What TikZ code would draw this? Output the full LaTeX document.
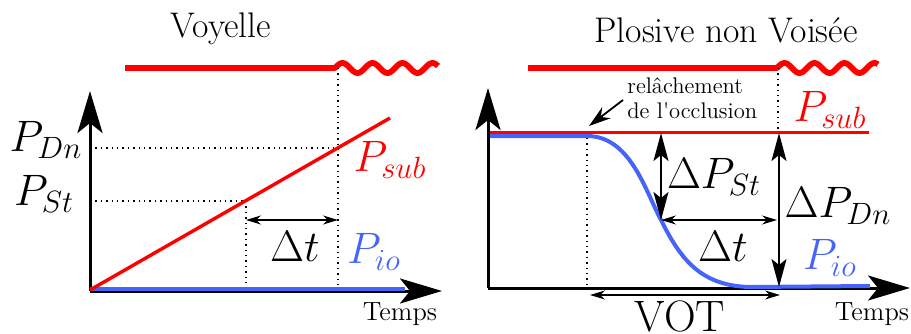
\documentclass[tikz,border=0pt]{standalone}
\usepackage{fix-cm}
\usetikzlibrary{arrows.meta,calc}
\definecolor{pblue}{RGB}{70,100,250}

\begin{document}
\begin{tikzpicture}[x=0.5pt,y=-0.5pt]

\tikzset{
  axis/.style={line width=1.5pt, -{Stealth[length=21pt, width=12.5pt, inset=5pt]}},
  glottis/.style={red, line width=2.9pt, line join=round},
  psub/.style={red, line width=1.7pt},
  pio/.style={pblue, line width=2pt},
  guide/.style={line width=0.7pt, dotted},
  span/.style={line width=0.65pt, arrows={Stealth[length=7.5pt, width=4.5pt]-Stealth[length=7.5pt, width=4.5pt]}},
  bigspan/.style={line width=0.9pt, arrows={Stealth[length=14pt, width=7.5pt, inset=3pt]-Stealth[length=14pt, width=7.5pt, inset=3pt]}},
  title/.style={font=\fontsize{17.8}{21}\selectfont},
  big/.style={font=\fontsize{22}{26}\selectfont, inner sep=0pt},
  temps/.style={font=\fontsize{13.2}{15}\selectfont},
  note/.style={font=\fontsize{11.3}{12.5}\selectfont, align=left, inner sep=0pt}
}

\useasboundingbox (0,0) rectangle (911,333);

% Coordinates Voyelle
\coordinate (o1) at (90,291);
\coordinate (ytip1) at (90,91);
\coordinate (xtip1) at (442,291);
\coordinate (g1) at (125,68);
\coordinate (w1) at (335,68);
\coordinate (t1) at (338,68);
\coordinate (s0) at (90,290);
\coordinate (s1) at (390,118);
\coordinate (a1) at (246,201);
\coordinate (b1) at (338,148);
\coordinate (i0) at (90,288.5);
\coordinate (i1) at (405,288.5);

% Coordinates Plosive
\coordinate (o2) at (488,288);
\coordinate (ytip2) at (488,88);
\coordinate (xtip2) at (910,288);
\coordinate (g2) at (528,68);
\coordinate (w2) at (777,68);
\coordinate (t2) at (778,68);
\coordinate (r0) at (490,132.5);
\coordinate (r1) at (869,132.5);
\coordinate (rel) at (587,132.5);
\coordinate (q0) at (490,136);
\coordinate (q1) at (587,136);
\coordinate (qm) at (661,220);
\coordinate (q2) at (750,287);
\coordinate (q3) at (870,286);
\coordinate (st0) at (661,133);
\coordinate (dn0) at (779,133);
\coordinate (dn1) at (779,287);

% Titles
\node[title] (title1) at (221,29) {Voyelle};
\node[title] (title2) at (726,30) {Plosive non Voisée};

% Labels Voyelle
\node[big] (pdn) at (46,140) {$P_{Dn}$};
\node[big] (pst) at (44,194) {$P_{St}$};
\node[big, red] (psub1) at (390,160) {$P_{sub}$};
\node[big, pblue] (pio1) at (374,252) {$P_{io}$};
\node[big] (dtlab1) at (295,246) {$\Delta t$};
\node[temps] (temps1) at (400,314) {Temps};

% Labels Plosive
\node[note, anchor=west] (relnote) at (627,98) {relâchement\\de l\textquotesingle occlusion};
\node[big, red] (psub2) at (830,110) {$P_{sub}$};
\node[big] (dpst) at (714,177) {$\Delta P_{St}$};
\node[big] (dtlab2) at (723,246) {$\Delta t$};
\node[big] (dpdn) at (838,206) {$\Delta P_{Dn}$};
\node[big, pblue] (pio2) at (830,258) {$P_{io}$};
\node[big, anchor=base] (vot) at (680,331) {VOT};
\node[temps] (temps2) at (872,314) {Temps};

% Glottis Voyelle
\draw[glottis] (g1) -- (w1) -- plot[domain=0:103, samples=80] ({335+\x}, {68-5*sin(12*\x)});

% Axes Voyelle
\draw[axis] (o1) -- (ytip1);
\draw[axis] (o1) -- (xtip1);

% Guides Voyelle
\draw[guide] (o1 |- b1) -- (b1);
\draw[guide] (o1 |- a1) -- (a1);
\draw[guide] (a1) -- (a1 |- o1);
\draw[guide] (t1) -- (t1 |- o1);

% Curves Voyelle
\draw[pio] (i0) -- (i1);
\draw[psub] (s0) -- (s1);

% Arrows Voyelle
\draw[span] (246,220) -- (338,220);

% Glottis Plosive
\draw[glottis] (g2) -- (w2) -- plot[domain=0:101, samples=80] ({777+\x}, {68-5*sin(12*\x)});

% Axes Plosive
\draw[axis] (o2) -- (ytip2);
\draw[axis] (o2) -- (xtip2);

% Guides Plosive
\draw[guide] (t2) -- (t2 |- r0);
\draw[guide] (rel) -- (rel |- o2);

% Curves Plosive
\draw[psub] (r0) -- (r1);
\draw[pio] (q0) -- (q1)
  .. controls (630,136) and (645,190) .. (qm)
  .. controls (680,258) and (700,286) .. (q2) -- (q3);

% Arrows Plosive
\draw[line width=0.9pt, -{Stealth[length=11pt, width=7pt]}] (623,100) -- (589,126);
\draw[bigspan] (st0) -- (qm);
\draw[span] (qm) -- (777,220);
\draw[bigspan] (dn0) -- (dn1);
\draw[span] (590,295) -- (780,295);

\end{tikzpicture}
\end{document}
